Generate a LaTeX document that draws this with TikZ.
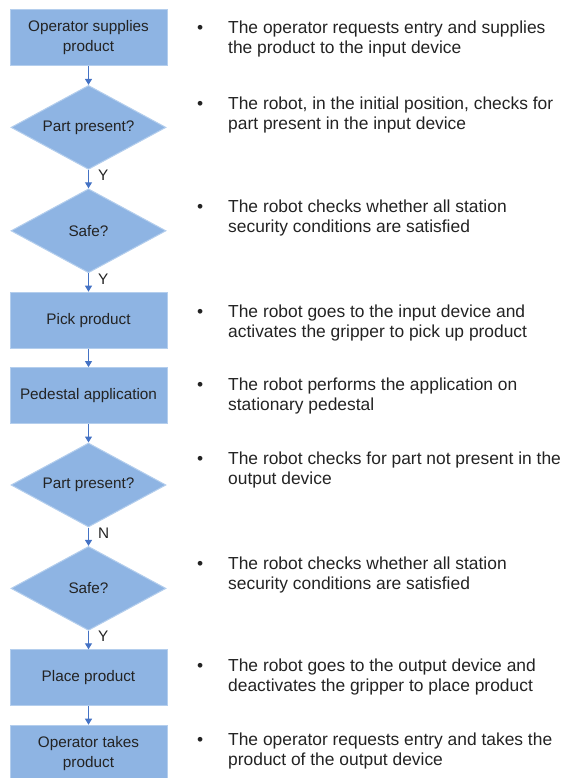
\documentclass[tikz,border=0pt]{standalone}
\usepackage{fontspec}
\setmainfont{Liberation Sans}
\usetikzlibrary{arrows.meta,positioning,shapes.geometric}
\definecolor{flowfill}{RGB}{142,180,227}
\definecolor{flowedge}{RGB}{180,206,237}
\definecolor{flowarrow}{RGB}{68,114,196}
\definecolor{flowtext}{RGB}{35,35,35}

\begin{document}
\begin{tikzpicture}[x=1pt,y=1pt,node distance=18.4pt,
    every node/.style={align=center,text=flowtext},
    stepbox/.style={draw=flowedge,line width=1pt,fill=flowfill,minimum width=157pt,minimum height=56pt,inner sep=2pt,font=\fontsize{15.3}{20}\selectfont},
    check/.style={diamond,aspect=1.85,draw=flowedge,line width=1pt,fill=flowfill,minimum width=155pt,minimum height=84pt,inner sep=0pt,font=\fontsize{15.3}{20}\selectfont},
    flow/.style={-{Triangle[width=7pt,length=6pt]},draw=flowarrow,line width=1pt},
    answer/.style={right=9pt,pos=.3,inner sep=0pt,font=\fontsize{15.3}{18}\selectfont},
    note/.style={anchor=base west,align=left,inner sep=0pt,font=\fontsize{17.4}{20}\selectfont}]
    \useasboundingbox (0,0) rectangle (564,-778);
    % flow chart
    \node[stepbox] (supply) at (88.5,-38) {Operator supplies\\product};
    \node[check,below=of supply] (present1) {Part present?};
    \node[check,below=of present1] (safe1) {Safe?};
    \node[stepbox,below=of safe1] (pick) {Pick product};
    \node[stepbox,below=of pick] (pedestal) {Pedestal application};
    \node[check,below=of pedestal] (present2) {Part present?};
    \node[check,below=of present2] (safe2) {Safe?};
    \node[stepbox,below=of safe2] (place) {Place product};
    \node[stepbox,below=of place] (take) {Operator takes\\product};
    \draw[flow] (supply)--(present1);
    \draw[flow] (present1)--node[answer]{Y}(safe1);
    \draw[flow] (safe1)--node[answer]{Y}(pick);
    \draw[flow] (pick)--(pedestal);
    \draw[flow] (pedestal)--(present2);
    \draw[flow] (present2)--node[answer]{N}(safe2);
    \draw[flow] (safe2)--node[answer]{Y}(place);
    \draw[flow] (place)--(take);
    % descriptions
    \node[note] (n1) at (197,-34) {\begin{tabular}[t]{@{}p{31pt}@{}l@{}}\textbullet & The operator requests entry and supplies\\ & the product to the input device\end{tabular}};
    \node[note] (n2) at (197,-110) {\begin{tabular}[t]{@{}p{31pt}@{}l@{}}\textbullet & The robot, in the initial position, checks for\\ & part present in the input device\end{tabular}};
    \node[note] (n3) at (197,-212) {\begin{tabular}[t]{@{}p{31pt}@{}l@{}}\textbullet & The robot checks whether all station\\ & security conditions are satisfied\end{tabular}};
    \node[note] (n4) at (197,-317) {\begin{tabular}[t]{@{}p{31pt}@{}l@{}}\textbullet & The robot goes to the input device and\\ & activates the gripper to pick up product\end{tabular}};
    \node[note] (n5) at (197,-390) {\begin{tabular}[t]{@{}p{31pt}@{}l@{}}\textbullet & The robot performs the application on\\ & stationary pedestal\end{tabular}};
    \node[note] (n6) at (197,-464) {\begin{tabular}[t]{@{}p{31pt}@{}l@{}}\textbullet & The robot checks for part not present in the\\ & output device\end{tabular}};
    \node[note] (n7) at (197,-569) {\begin{tabular}[t]{@{}p{31pt}@{}l@{}}\textbullet & The robot checks whether all station\\ & security conditions are satisfied\end{tabular}};
    \node[note] (n8) at (197,-671) {\begin{tabular}[t]{@{}p{31pt}@{}l@{}}\textbullet & The robot goes to the output device and\\ & deactivates the gripper to place product\end{tabular}};
    \node[note] (n9) at (197,-745) {\begin{tabular}[t]{@{}p{31pt}@{}l@{}}\textbullet & The operator requests entry and takes the\\ & product of the output device\end{tabular}};
\end{tikzpicture}
\end{document}
